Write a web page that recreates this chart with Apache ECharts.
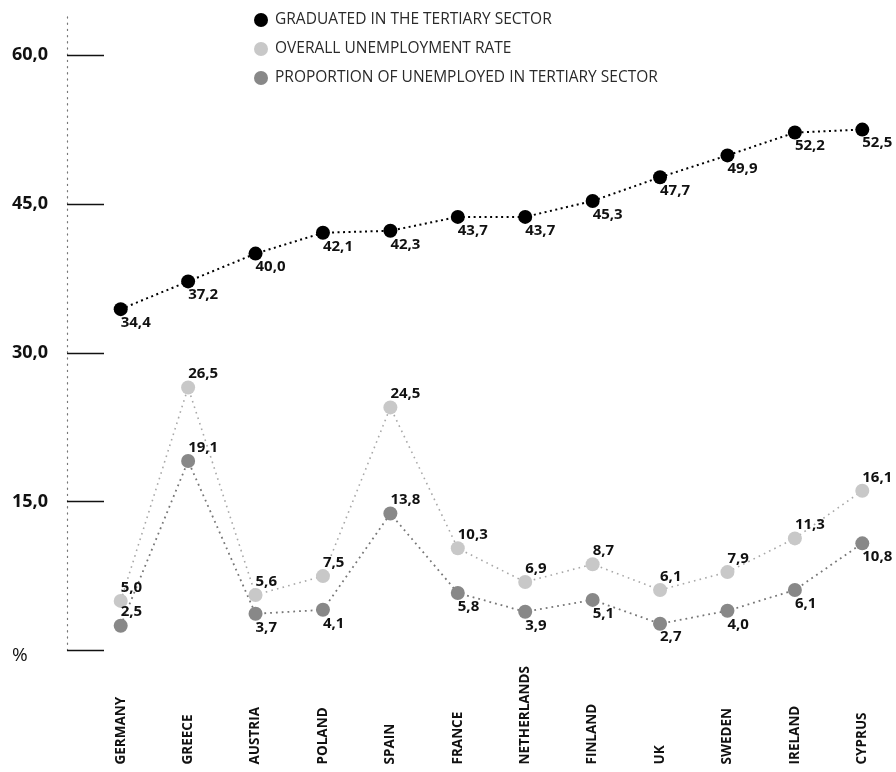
<!DOCTYPE html>
<html>
<head>
<meta charset="utf-8">
<script src="https://cdn.jsdelivr.net/npm/echarts@6/dist/echarts.min.js"></script>
<style>
  html, body { margin: 0; padding: 0; background: #fff; }
  #chart { width: 896px; height: 772px; }
</style>
</head>
<body>
<div id="chart"></div>
<script>
// Countries along the horizontal axis
const countries = ['GERMANY', 'GREECE', 'AUSTRIA', 'POLAND', 'SPAIN', 'FRANCE',
  'NETHERLANDS', 'FINLAND', 'UK', 'SWEDEN', 'IRELAND', 'CYPRUS'];

// Series values (%)
const graduatedTertiary = [34.4, 37.2, 40.0, 42.1, 42.3, 43.7, 43.7, 45.3, 47.7, 49.9, 52.2, 52.5];
const overallUnemployment = [5.0, 26.5, 5.6, 7.5, 24.5, 10.3, 6.9, 8.7, 6.1, 7.9, 11.3, 16.1];
const unemployedTertiary = [2.5, 19.1, 3.7, 4.1, 13.8, 5.8, 3.9, 5.1, 2.7, 4.0, 6.1, 10.8];

// Value-axis ticks
const yTicks = [0, 15, 30, 45, 60];

const seriesNames = [
  'GRADUATED IN THE TERTIARY SECTOR',
  'OVERALL UNEMPLOYMENT RATE',
  'PROPORTION OF UNEMPLOYED IN TERTIARY SECTOR'
];

const FONT = '"Open Sans", "Noto Sans", sans-serif';
const fmt = v => v.toFixed(1).replace('.', ',');

// label placements relative to the 14px symbol box
const LABEL_BELOW = { position: [7, 13], align: 'left', verticalAlign: 'top' };
const LABEL_ABOVE = { position: [7, 1], align: 'left', verticalAlign: 'bottom' };

// countries whose dark-grey label sits above the point
const darkAbove = new Set(['GERMANY', 'GREECE', 'SPAIN']);

const labelBase = {
  show: true,
  fontFamily: FONT,
  fontWeight: 'bold',
  fontSize: 15,
  color: '#111',
  formatter: p => fmt(p.value)
};

const darkData = unemployedTertiary.map((v, i) => ({
  value: v,
  label: darkAbove.has(countries[i]) ? LABEL_ABOVE : LABEL_BELOW
}));

const chart = echarts.init(document.getElementById('chart'), null, { renderer: 'canvas' });

chart.setOption({
  animation: false,
  backgroundColor: '#ffffff',
  legend: {
    orient: 'vertical',
    left: 249,
    top: 7,
    itemGap: 13,
    itemWidth: 14,
    itemHeight: 14,
    icon: 'circle',
    data: seriesNames,
    textStyle: { fontFamily: FONT, fontSize: 15.5, color: '#2a2a2a', padding: [0, 0, 0, 2] }
  },
  grid: { left: 87, right: 0, top: 12.5, bottom: 121.5 },
  xAxis: {
    type: 'category',
    data: countries,
    boundaryGap: true,
    axisLine: { show: false },
    axisTick: { show: false },
    axisLabel: {
      rotate: 90,
      align: 'left',
      verticalAlign: 'middle',
      margin: 114,
      interval: 0,
      fontFamily: FONT,
      fontWeight: 'bold',
      fontSize: 13.5,
      color: '#111'
    }
  },
  yAxis: {
    type: 'value',
    min: 0,
    max: 64.3,
    interval: 15,
    offset: 20,
    splitLine: { show: false },
    axisLine: {
      show: true,
      lineStyle: { color: '#777', width: 1.2, type: [1.2, 5] }
    },
    axisTick: {
      show: true,
      inside: true,
      length: 37,
      customValues: yTicks,
      lineStyle: { color: '#111', width: 1.3 }
    },
    axisLabel: {
      customValues: yTicks,
      align: 'left',
      margin: 55,
      fontFamily: FONT,
      fontWeight: 'bold',
      fontSize: 18,
      color: '#111',
      formatter: v => (v === 0 ? '{pct|%}' : fmt(v)),
      rich: {
        pct: { fontFamily: FONT, fontWeight: 'normal', fontSize: 19, color: '#111', padding: [10, 0, 0, 0] }
      }
    }
  },
  series: [
    {
      name: seriesNames[0],
      type: 'line',
      data: graduatedTertiary,
      symbol: 'circle',
      symbolSize: 14,
      itemStyle: { color: '#000' },
      lineStyle: { color: '#000', width: 2, type: [2, 3.5] },
      label: Object.assign({}, labelBase, LABEL_BELOW),
      z: 3
    },
    {
      name: seriesNames[1],
      type: 'line',
      data: overallUnemployment,
      symbol: 'circle',
      symbolSize: 14,
      itemStyle: { color: '#c8c8c8' },
      lineStyle: { color: '#a8a8a8', width: 1.6, type: [1.6, 4.2] },
      label: Object.assign({}, labelBase, LABEL_ABOVE),
      z: 2
    },
    {
      name: seriesNames[2],
      type: 'line',
      data: darkData,
      symbol: 'circle',
      symbolSize: 14,
      itemStyle: { color: '#888888' },
      lineStyle: { color: '#777777', width: 1.8, type: [1.8, 4] },
      label: Object.assign({}, labelBase),
      z: 2
    }
  ]
});
</script>
</body>
</html>
